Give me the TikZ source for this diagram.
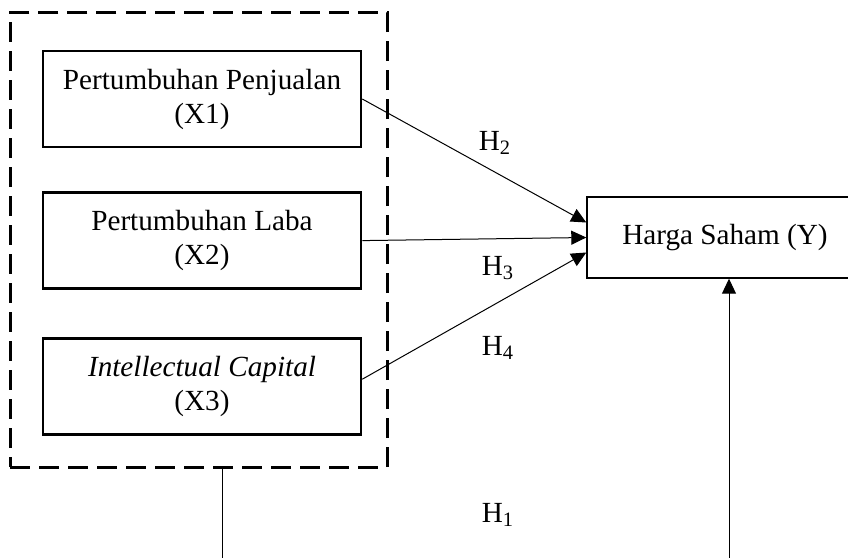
\documentclass[tikz,border=0pt]{standalone}
\usepackage{fontspec}
\setmainfont{Liberation Serif}
\usetikzlibrary{positioning,arrows.meta,fit}

\begin{document}
\begin{tikzpicture}[x=0.5pt, y=-0.5pt,
		var/.style = {draw, line width=1.3pt, minimum width=159pt, minimum height=48pt,
			inner sep=0pt, align=center, font=\fontsize{14.6}{17}\selectfont},
		dep/.style = {draw, line width=0.7pt, minimum width=138pt, minimum height=40.5pt,
			inner sep=0pt, font=\fontsize{14.6}{17}\selectfont},
		grp/.style = {draw, line width=1.5pt, dash pattern=on 10pt off 4.5pt, inner sep=0pt},
		hyp/.style = {font=\fontsize{14.6}{17}\selectfont},
		>={Triangle[length=7.5pt,width=7pt]}]
			\useasboundingbox (0,0) rectangle (848,558);
			\clip (0,0) rectangle (848,558);

			\node[var] (x1) at (202,99) {Pertumbuhan Penjualan\\(X1)};
			\node[var] (x2) [below=21.5pt of x1] {Pertumbuhan Laba\\(X2)};
			\node[var] (x3) [below=23.5pt of x2] {\textit{Intellectual Capital}\\(X3)};
			\node[dep] (y) at (725,237.5) {Harga Saham (Y)};

			\coordinate (gnw) at (10,12.5);
			\coordinate (gse) at (387,467);
			\node[grp, fit=(gnw) (gse)] (g) {};

			\draw [line width=0.5pt, ->] (x1.east) -- ([yshift=7.5pt]y.west);
			\draw [line width=0.5pt, ->] (x2.east) -- (y.west);
			\draw [line width=0.5pt, ->] ([yshift=3.5pt]x3.east) -- ([yshift=-7.5pt]y.west);

			\node[hyp] (h2) at (495,143) {H\textsubscript{2}};
			\node[hyp] (h3) at (498,268) {H\textsubscript{3}};
			\node[hyp] (h4) at (498,348) {H\textsubscript{4}};
			\node[hyp] (h1) at (498,515) {H\textsubscript{1}};

			\coordinate (lb) at (222,558);
			\coordinate (rb) at (729,558);
			\draw [line width=0.5pt] (lb |- g.south) -- (lb);
			\draw [line width=0.5pt, ->] (rb) -- (rb |- y.south);
		\end{tikzpicture}
\end{document}
